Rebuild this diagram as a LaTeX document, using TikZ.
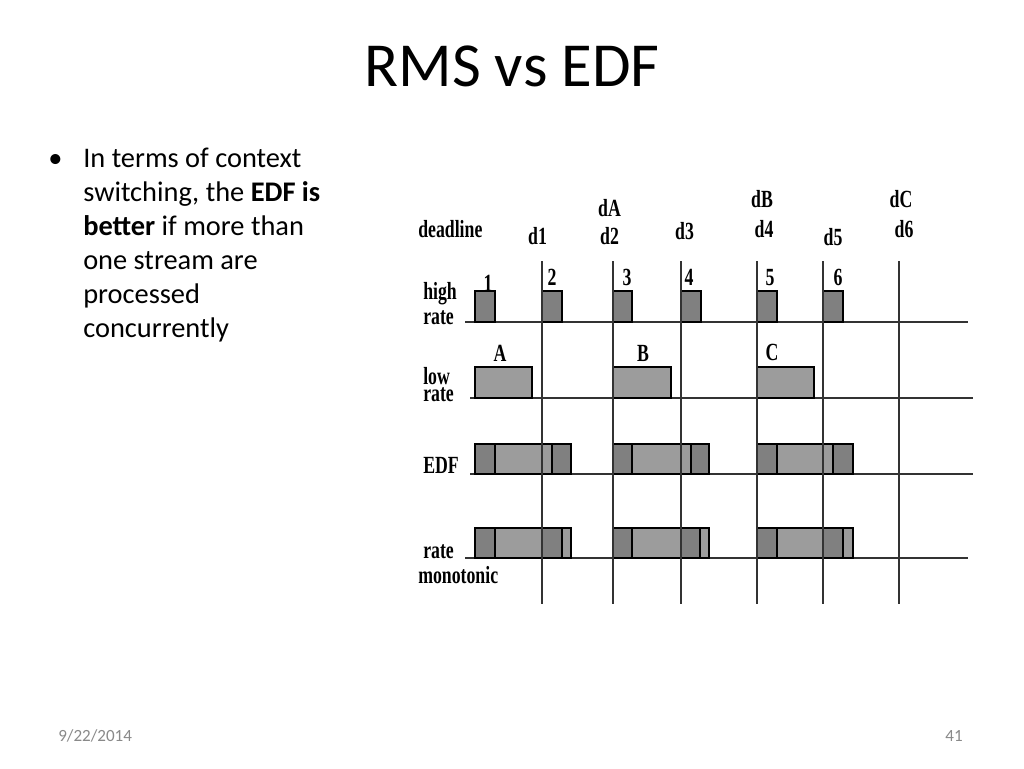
\documentclass[tikz,border=0pt]{standalone}
\usepackage{fontspec}
\setmainfont{Carlito}
\newfontfamily\diagfont[FakeStretch=0.72]{Liberation Serif}
\definecolor{dkgray}{HTML}{808080}
\definecolor{ltgray}{HTML}{9C9C9C}
\definecolor{linegray}{HTML}{333333}
\definecolor{footgray}{HTML}{898989}
\tikzset{
  lbl/.style={font=\diagfont\bfseries\fontsize{18.5}{19}\selectfont, inner sep=0pt},
  dkbox/.style={fill=dkgray, draw=black, line width=0.8pt},
  ltbox/.style={fill=ltgray, draw=black, line width=0.8pt},
  axisline/.style={draw=linegray, line width=1.1pt},
  body/.style={font=\fontsize{21.3}{25.6}\selectfont, inner sep=0pt, anchor=base west},
}
\begin{document}
\begin{tikzpicture}[x=0.75pt,y=-0.75pt]
\useasboundingbox[fill=white] (0,0) rectangle (1024,768);

% title
\node[font=\fontsize{47}{56}\selectfont, inner sep=0pt, anchor=base] (title) at (512,86) {RMS vs EDF};

% bullet text
\node[body] (bullet) at (48,167) {\textbullet};
\node[body] (t1) at (83,167) {In terms of context};
\node[body] (t2) at (83,201) {switching, the \textbf{EDF is}};
\node[body] (t3) at (83,235) {\textbf{better} if more than};
\node[body] (t4) at (83,269) {one stream are};
\node[body] (t5) at (83,303) {processed};
\node[body] (t6) at (83,337) {concurrently};

% footer
\node[font=\fontsize{12.8}{15}\selectfont, text=footgray, inner sep=0pt, anchor=base west] (date) at (58,741) {9/22/2014};
\node[font=\fontsize{12.8}{15}\selectfont, text=footgray, inner sep=0pt, anchor=base east] (page) at (963,741) {41};

% baselines
\draw[axisline] (465,322) -- (968,322);
\draw[axisline] (470,398) -- (973,398);
\draw[axisline] (470,474) -- (973,474);
\draw[axisline] (465,558) -- (968,558);

% high rate
\foreach \a/\b in {475/495, 542/562, 613/632, 681/701, 757/777, 823/843}
  \draw[dkbox] (\a,291) rectangle (\b,322);
% low rate
\foreach \a/\b in {475/532, 613/671, 757/814}
  \draw[ltbox] (\a,367) rectangle (\b,398);
% EDF
\foreach \a/\b/\c/\d in {475/495/552/571, 613/632/691/709, 757/777/833/853}{
  \draw[dkbox] (\a,444) rectangle (\b,474);
  \draw[ltbox] (\b,444) rectangle (\c,474);
  \draw[dkbox] (\c,444) rectangle (\d,474);
}
% rate monotonic
\foreach \a/\b/\c/\d/\e in {475/495/542/562/571, 613/632/681/700/709, 757/777/823/843/853}{
  \draw[dkbox] (\a,528) rectangle (\b,558);
  \draw[ltbox] (\b,528) rectangle (\c,558);
  \draw[dkbox] (\c,528) rectangle (\d,558);
  \draw[ltbox] (\d,528) rectangle (\e,558);
}

% deadline verticals
\foreach \x in {542, 613, 681, 757, 823, 899}
  \draw[axisline] (\x,261) -- (\x,604);

% row labels
\node[lbl, anchor=base west] (ldead) at (418,237) {deadline};
\node[lbl, anchor=base west] (lhigh) at (423,299) {high};
\node[lbl, anchor=base west] (lhrate) at (423,324) {rate};
\node[lbl, anchor=base west] (llow) at (423,384) {low};
\node[lbl, anchor=base west] (llrate) at (423,401) {rate};
\node[lbl, anchor=base west] (ledf) at (423,473) {EDF};
\node[lbl, anchor=base west] (lrrate) at (423,558) {rate};
\node[lbl, anchor=base west] (lmono) at (418,583) {monotonic};

% deadline labels
\node[lbl, anchor=base] (dd1) at (537.5,244) {d1};
\node[lbl, anchor=base] (ddA) at (609.5,216) {dA};
\node[lbl, anchor=base] (dd2) at (609.5,244) {d2};
\node[lbl, anchor=base] (dd3) at (684.5,239) {d3};
\node[lbl, anchor=base] (ddB) at (762,207) {dB};
\node[lbl, anchor=base] (dd4) at (764,237) {d4};
\node[lbl, anchor=base] (dd5) at (833,245) {d5};
\node[lbl, anchor=base] (ddC) at (901,207) {dC};
\node[lbl, anchor=base] (dd6) at (904,237) {d6};

% job labels
\node[lbl, anchor=base] (j1) at (488,291) {1};
\node[lbl, anchor=base] (j2) at (552,285) {2};
\node[lbl, anchor=base] (j3) at (627,285) {3};
\node[lbl, anchor=base] (j4) at (689,285) {4};
\node[lbl, anchor=base] (j5) at (770,285) {5};
\node[lbl, anchor=base] (j6) at (838,285) {6};
\node[lbl, anchor=base] (jA) at (500,361) {A};
\node[lbl, anchor=base] (jB) at (643,361) {B};
\node[lbl, anchor=base] (jC) at (772,360) {C};
\end{tikzpicture}
\end{document}
